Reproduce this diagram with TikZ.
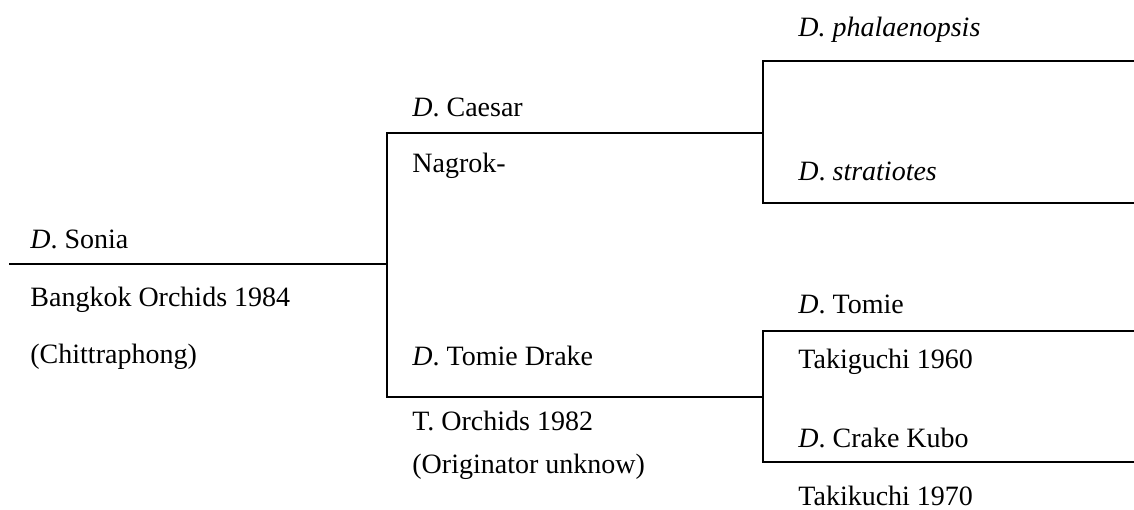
\documentclass[tikz,border=0pt]{standalone}
\usepackage{fontspec}
\setmainfont{Liberation Serif}
\begin{document}
\begin{tikzpicture}[x=0.5pt,y=-0.5pt,
  lbl/.style={anchor=base west, inner sep=0pt, font=\fontsize{14}{16}\selectfont},
  link/.style={line width=1pt}]
\useasboundingbox (0,0) rectangle (1134,509);
% line end points
\coordinate (s0) at (9,264);   \coordinate (s1) at (387,264);
\coordinate (c0) at (387,133); \coordinate (c1) at (763,133);
\coordinate (t0) at (387,397); \coordinate (t1) at (763,397);
\coordinate (p0) at (763,61);  \coordinate (p1) at (1134,61);
\coordinate (q0) at (763,203); \coordinate (q1) at (1134,203);
\coordinate (u0) at (763,331); \coordinate (u1) at (1134,331);
\coordinate (v0) at (763,462); \coordinate (v1) at (1134,462);
% connectors
\draw[link] (s0) -- (s1);
\draw[link] (c1) -- (c0) -- (t0) -- (t1);
\draw[link] (p1) -- (p0) -- (q0) -- (q1);
\draw[link] (u1) -- (u0) -- (v0) -- (v1);
% labels
\node[lbl] (sonia) at (30,248) {\textit{D}. Sonia};
\node[lbl] (bko) at (30,306) {Bangkok Orchids 1984};
\node[lbl] (chit) at (30,363) {(Chittraphong)};
\node[lbl] (caesar) at (412,116) {\textit{D}. Caesar};
\node[lbl] (nagrok) at (412,172) {Nagrok-};
\node[lbl] (tdrake) at (412,365) {\textit{D}. Tomie Drake};
\node[lbl] (torch) at (412,430) {T. Orchids 1982};
\node[lbl] (orig) at (412,473) {(Originator unknow)};
\node[lbl] (phal) at (798,36) {\textit{D. phalaenopsis}};
\node[lbl] (strat) at (798,180) {\textit{D}. \textit{stratiotes}};
\node[lbl] (tomie) at (798,313) {\textit{D}. Tomie};
\node[lbl] (taki) at (798,368) {Takiguchi 1960};
\node[lbl] (crake) at (798,447) {\textit{D}. Crake Kubo};
\node[lbl] (takik) at (798,505) {Takikuchi 1970};
\end{tikzpicture}
\end{document}
